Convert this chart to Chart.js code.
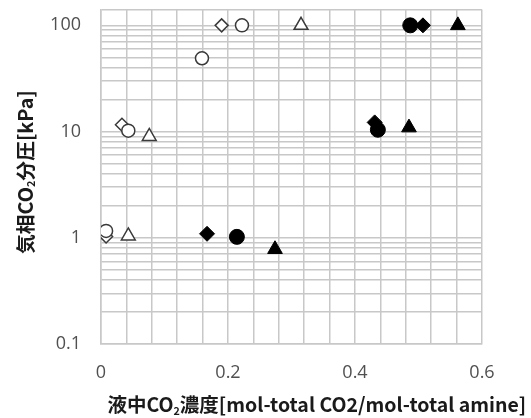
<!DOCTYPE html>
<html>
<head>
<meta charset="utf-8">
<script src="https://cdn.jsdelivr.net/npm/chart.js@4"></script>
<style>
  body { margin: 0; background: #fff; }
  #wrap { width: 531px; height: 418px; position: relative; }
</style>
</head>
<body>
<div id="wrap"><canvas id="vle"></canvas></div>
<script>
// Data (x: mol-CO2 / mol-amine, y: kPa)
const openCircleX = [0.008, 0.043, 0.159, 0.222];
const openCircleY = [1.16, 10.2, 49, 100];
const openDiamondX = [0.008, 0.033, 0.190];
const openDiamondY = [1.03, 11.6, 100];
const openTriangleX = [0.043, 0.076, 0.315];
const openTriangleY = [1.04, 9.0, 100];
const fillCircleX = [0.214, 0.436, 0.487];
const fillCircleY = [1.02, 10.4, 100];
const fillDiamondX = [0.167, 0.431, 0.507];
const fillDiamondY = [1.09, 12.2, 100];
const fillTriangleX = [0.274, 0.485, 0.562];
const fillTriangleY = [0.78, 10.9, 100];

// Axis labels
const xLabels = ["0", "0.2", "0.4", "0.6"];
const yLabels = [0.1, 1, 10, 100];
const yTop = 141;

const xTitle = [{ text: "液中CO" }, { text: "2", sub: true }, { text: "濃度[mol-total CO2/mol-total amine]" }];
const yTitle = [{ text: "気相CO" }, { text: "2", sub: true }, { text: "分圧[kPa]" }];

function pts(xs, ys) {
    return xs.map((x, i) => ({ x: x, y: ys[i] }));
}

function series(xs, ys, style, radius, filled) {
    return {
        data: pts(xs, ys),
        pointStyle: style,
        pointRadius: radius,
        pointHoverRadius: radius,
        pointBackgroundColor: filled ? "#000" : "#fff",
        pointBorderColor: filled ? "#000" : "#3a3a3a",
        pointBorderWidth: filled ? 1 : 1.5,
        showLine: false
    };
}

// draws a title with a lowered "2", stretched to a given width
function drawTitle(ctx, parts, cx, cy, rot, targetW) {
    const base = 18;
    const font = (s) => `bold ${s}px "Noto Sans CJK JP", sans-serif`;
    ctx.save();
    let w = 0;
    parts.forEach(p => {
        ctx.font = font(p.sub ? base * 0.55 : base);
        w += ctx.measureText(p.text).width;
    });
    const size = base * targetW / w;
    ctx.translate(cx, cy);
    ctx.rotate(rot);
    ctx.fillStyle = "#1a1a1a";
    ctx.textBaseline = "middle";
    ctx.textAlign = "left";
    let x = -targetW / 2;
    parts.forEach(p => {
        const s = p.sub ? size * 0.55 : size;
        ctx.font = font(s);
        ctx.fillText(p.text, x, p.sub ? size * 0.3 : 0);
        x += ctx.measureText(p.text).width;
    });
    ctx.restore();
}

const axisTitles = {
    id: "axisTitles",
    afterDraw(chart) {
        drawTitle(chart.ctx, xTitle, 317, 405, 0, 419);
        drawTitle(chart.ctx, yTitle, 25, 172, -Math.PI / 2, 164);
    }
};

const gridColor = "#c8c8c8";

new Chart(document.getElementById("vle"), {
    type: "scatter",
    data: {
        datasets: [
            series(openCircleX, openCircleY, "circle", 6.5, false),
            series(openDiamondX, openDiamondY, "rectRot", 6.5, false),
            series(openTriangleX, openTriangleY, "triangle", 8, false),
            series(fillCircleX, fillCircleY, "circle", 7.5, true),
            series(fillDiamondX, fillDiamondY, "rectRot", 7.5, true),
            series(fillTriangleX, fillTriangleY, "triangle", 8.5, true)
        ]
    },
    options: {
        responsive: true,
        maintainAspectRatio: false,
        animation: false,
        layout: { padding: { top: 7, right: 49, left: 0, bottom: 0 } },
        plugins: {
            legend: { display: false },
            tooltip: { enabled: false }
        },
        scales: {
            x: {
                type: "linear",
                min: 0,
                max: 0.6,
                grid: { color: gridColor, lineWidth: 1.5, drawTicks: false },
                border: { color: gridColor, width: 1.5 },
                ticks: {
                    stepSize: 0.04,
                    padding: 18,
                    maxRotation: 0,
                    autoSkip: false,
                    color: "#505050",
                    font: { family: "'Open Sans', sans-serif", size: 18 },
                    callback: (v, i) => (i % 5 === 0 ? xLabels[i / 5] : "")
                },
                afterFit(scale) {
                    scale.height = 74;
                    scale.paddingLeft = 0;
                    scale.paddingRight = 0;
                }
            },
            y: {
                type: "logarithmic",
                min: yLabels[0],
                max: yTop,
                grid: { color: gridColor, lineWidth: 1.5, drawTicks: false },
                border: { color: gridColor, width: 1.5 },
                ticks: {
                    padding: 20,
                    autoSkip: false,
                    color: "#505050",
                    font: { family: "'Open Sans', sans-serif", size: 18 },
                    callback: (v) => (yLabels.includes(v) ? String(v) : "")
                },
                afterBuildTicks(scale) {
                    const t = [];
                    yLabels.slice(0, -1).forEach(d => {
                        t.push(d);
                        for (let k = 2; k <= 9; k++) t.push(+(k * d).toPrecision(3));
                    });
                    t.push(yLabels[yLabels.length - 1], yTop);
                    scale.ticks = t.map(v => ({ value: v }));
                },
                afterFit(scale) {
                    scale.width = 101;
                    scale.paddingTop = 0;
                    scale.paddingBottom = 0;
                }
            }
        }
    },
    plugins: [axisTitles]
});
</script>
</body>
</html>
